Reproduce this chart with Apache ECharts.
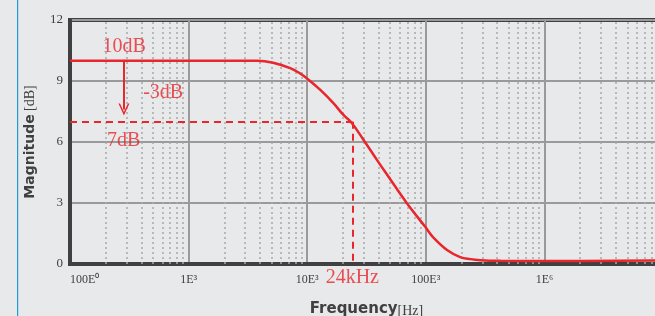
<!DOCTYPE html>
<html>
<head>
<meta charset="utf-8">
<script src="https://cdn.jsdelivr.net/npm/echarts@6/dist/echarts.min.js"></script>
<style>
html,body{margin:0;padding:0;background:#e8e9eb;}
#main{width:655px;height:316px;}
</style>
</head>
<body>
<div id="main"></div>
<script>
// frequency response
var freqs = [100, 3790, 5160, 7190, 8730, 9930, 12900, 16700, 20200, 23500, 29900, 38700, 48500, 69300, 100000, 116000, 151000, 195000, 238000, 288000, 427000, 1000000, 10000000];
var mags  = [10.0, 10.0, 9.9, 9.63, 9.37, 9.13, 8.56, 7.9, 7.33, 6.97, 6.1, 5.12, 4.29, 2.99, 1.79, 1.3, 0.69, 0.34, 0.24, 0.19, 0.16, 0.15, 0.17];

// x tick labels (decades)
var tickValues = [100, 1000, 10000, 100000, 1000000, 10000000];
var tickLabels = ['100E⁰', '1E³', '10E³', '100E³', '1E⁶', ''];
var yTicks = [0, 3, 6, 9, 12];

// annotations
var cutFreq = 24000;
var topDb = 10;
var cutDb = 7;
var arrowFreq = 285;
var arrowEndDb = 7.6;
var noteFreqs = [286, 610, 283];
var noteDbs = [10.68, 8.42, 6.07];
var noteTexts = ['10dB', '-3dB', '7dB'];
var cutLabel = '24kHz';

var red = '#e8262b';
var serif = 'Liberation Serif';

// minor dotted grid lines 2..9 x each decade
var minorLines = [];
for (var d = 0; d < tickValues.length - 1; d++) {
  for (var k = 2; k <= 9; k++) {
    minorLines.push({ xAxis: tickValues[d] * k });
  }
}

var curve = [];
for (var i = 0; i < freqs.length; i++) curve.push([freqs[i], mags[i]]);
var notes = [];
for (var j = 0; j < noteFreqs.length; j++) notes.push([noteFreqs[j], noteDbs[j], noteTexts[j]]);

var myChart = echarts.init(document.getElementById('main'));
var option = {
  backgroundColor: '#e8e9eb',
  animation: false,
  graphic: [{
    type: 'rect',
    shape: { x: 17, y: 0, width: 1.2, height: 316 },
    style: { fill: '#1f9bd7' }
  }],
  grid: {
    left: 70, width: 593, top: 20, bottom: 52,
    outerBoundsMode: 'none', containLabel: false,
    show: true, borderWidth: 4, borderColor: '#404040', backgroundColor: 'transparent'
  },
  xAxis: {
    type: 'log', logBase: 10, min: 100, max: 10000000,
    name: '{b|Frequency}{s|[Hz]}',
    nameLocation: 'middle', nameGap: 36,
    nameTextStyle: {
      rich: {
        b: { fontFamily: 'DejaVu Sans', fontWeight: 'bold', fontSize: 15, color: '#404040' },
        s: { fontFamily: serif, fontSize: 14, color: '#404040', padding: [4, 0, 0, 0] }
      }
    },
    axisLine: { show: true, lineStyle: { color: '#404040', width: 4 } },
    axisTick: { show: false },
    axisLabel: {
      fontFamily: serif, fontSize: 12, color: '#404040', margin: 10,
      alignMinLabel: 'left',
      formatter: function (v) {
        var idx = tickValues.indexOf(Math.round(v));
        return idx >= 0 ? tickLabels[idx] : '';
      }
    },
    splitLine: { show: true, lineStyle: { color: '#9a9a9a', width: 2 } }
  },
  yAxis: {
    type: 'value', min: yTicks[0], max: yTicks[yTicks.length - 1], interval: 3,
    name: '{b|Magnitude} {s|[dB]}',
    nameLocation: 'middle', nameGap: 33, nameRotate: 90,
    nameTextStyle: {
      rich: {
        b: { fontFamily: 'DejaVu Sans', fontWeight: 'bold', fontSize: 14, color: '#404040' },
        s: { fontFamily: serif, fontSize: 14, color: '#404040' }
      }
    },
    axisLine: { show: true, lineStyle: { color: '#404040', width: 4 } },
    axisTick: { show: false },
    axisLabel: { fontFamily: serif, fontSize: 13, color: '#404040', margin: 7 },
    splitLine: { show: true, lineStyle: { color: '#9a9a9a', width: 2 } }
  },
  series: [{
    type: 'line',
    name: 'minor',
    data: [],
    z: 1,
    silent: true,
    markLine: {
      silent: true,
      symbol: 'none',
      label: { show: false },
      lineStyle: { color: '#a8a8a8', width: 1.5, type: [2, 3] },
      data: minorLines
    }
  }, {
    type: 'line',
    name: 'magnitude',
    data: curve,
    smooth: 0.4,
    showSymbol: false,
    z: 5,
    lineStyle: { color: red, width: 2.5 },
    markLine: {
      silent: true,
      symbol: 'none',
      label: { show: false },
      lineStyle: { color: red, width: 2, type: [7, 5] },
      data: [
        [{ coord: [freqs[0], cutDb] }, { coord: [cutFreq, cutDb] }],
        [{ coord: [cutFreq, cutDb] }, { coord: [cutFreq, 0] }],
        [{ coord: [arrowFreq, topDb], symbol: 'none', lineStyle: { type: 'solid', width: 2 } },
         { coord: [arrowFreq, arrowEndDb], symbol: 'path://M0,10 L5,0 L10,10 L8.6,10 L5,2.8 L1.4,10 Z', symbolSize: [11, 12], lineStyle: { type: 'solid', width: 2 } }]
      ]
    }
  }, {
    type: 'scatter',
    name: 'notes',
    data: notes,
    symbolSize: 0,
    z: 6,
    label: {
      show: true, position: 'inside', color: red, fontFamily: serif, fontSize: 20,
      formatter: function (p) { return p.data[2]; }
    }
  }, {
    type: 'scatter',
    name: 'cut',
    data: [[cutFreq, 0, cutLabel]],
    symbolSize: 0,
    clip: false,
    z: 6,
    label: {
      show: true, position: 'bottom', distance: 4, color: red, fontFamily: serif, fontSize: 20,
      formatter: function (p) { return p.data[2]; }
    }
  }]
};
myChart.setOption(option);
</script>
</body>
</html>
